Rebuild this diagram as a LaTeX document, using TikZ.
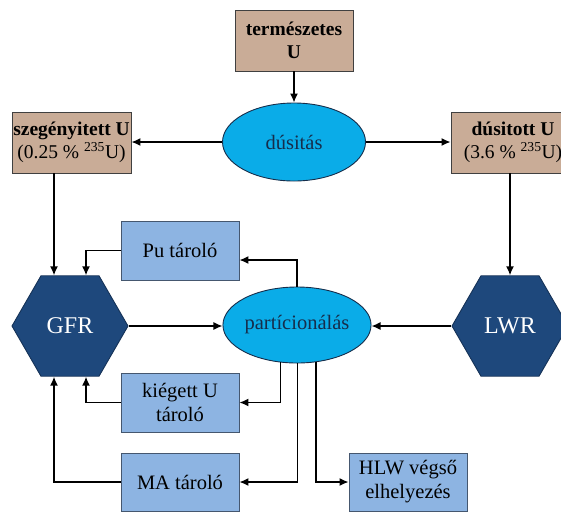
\documentclass[tikz,border=0pt]{standalone}
\usepackage{fontspec}
\setmainfont{Liberation Serif}
\usetikzlibrary{shapes.geometric,arrows.meta}

\definecolor{urbox}{RGB}{201,172,151}
\definecolor{tarolo}{RGB}{141,180,226}
\definecolor{folyamat}{RGB}{10,172,232}
\definecolor{reaktor}{RGB}{30,72,124}
\definecolor{sotetkek}{RGB}{22,45,75}

\tikzset{
  urnode/.style={draw=black!75, line width=0.9pt, fill=urbox, minimum width=118pt,
    minimum height=61pt, align=center, inner sep=1pt},
  tarnode/.style={draw=sotetkek!80, line width=0.9pt, fill=tarolo, minimum width=118pt,
    minimum height=59pt, align=center, inner sep=1pt, font=\fontsize{20.5}{24}\selectfont},
  fonode/.style={ellipse, draw=sotetkek, line width=0.9pt, fill=folyamat, text=sotetkek,
    inner sep=0pt, font=\fontsize{20.5}{24}\selectfont},
  reaktornode/.style={regular polygon, regular polygon sides=6, minimum size=116pt,
    inner sep=0pt, draw=reaktor!70!black, line width=0.9pt, fill=reaktor, text=white,
    font=\fontsize{24}{28}\selectfont},
  nyil/.style={->, >={Latex[length=9pt,width=8pt]}, line width=1.4pt}
}

\begin{document}
\begin{tikzpicture}[x=1pt, y=-1pt, font=\fontsize{19.5}{23}\selectfont]

\useasboundingbox (0,0) rectangle (561,512);

% uran dusitas
\node[urnode] (term) at (294,40.5) {\textbf{természetes}\\\textbf{U}};
\node[fonode, minimum width=143pt, minimum height=78pt] (dus) at (294,142) {dúsitás};
\node[urnode, minimum width=119pt] (szeg) at (71.5,142.5)
  {\textbf{szegényitett U}\\(0.25 \% \textsuperscript{235}U)};
\node[urnode, minimum width=124pt] (dusU) at (513,142.5)
  {\textbf{dúsitott U}\\(3.6 \% \textsuperscript{235}U)};

% reaktorok
\node[reaktornode] (GFR) at (70,326) {GFR};
\node[reaktornode] (LWR) at (510,326) {LWR};

% particionalas es tarolok
\node[fonode, minimum width=140pt, minimum height=76pt] (part) at (297,325) {partícionálás};
\node[tarnode] (Pu) at (180,250.5) {Pu tároló};
\node[tarnode] (kieg) at (180,402.5) {kiégett U\\tároló};
\node[tarnode, minimum height=58pt] (MA) at (180,482) {MA tároló};
\node[tarnode, minimum height=58pt] (HLW) at (408,482) {HLW végső\\elhelyezés};

\draw[nyil] (term) -- (dus);
\draw[nyil] (dus.west) -- (szeg.east |- dus.west);
\draw[nyil] (dus.east) -- (dusU.west |- dus.east);

\draw[nyil] ([xshift=-16pt]GFR.north |- szeg.south) -- ([xshift=-16pt]GFR.north);
\draw[nyil] (LWR.north |- dusU.south) -- (LWR.north);
\draw[nyil] (Pu.west) -| ([xshift=16pt]GFR.north);

\draw[nyil] (GFR.east) -- (GFR.east -| part.west);
\draw[nyil] (LWR.west) -- (LWR.west -| part.east);

\draw[nyil] (part.north) |- ([yshift=-9.5pt]Pu.east);
\draw[nyil] (part.246.6) |- (kieg.east);
\draw[nyil] (part.271.5) |- (MA.east);
\draw[nyil] (part.297.4) |- (HLW.west);

\draw[nyil] (kieg.west) -| ([xshift=16pt]GFR.south);
\draw[nyil] (MA.west) -| ([xshift=-16pt]GFR.south);

\end{tikzpicture}
\end{document}
